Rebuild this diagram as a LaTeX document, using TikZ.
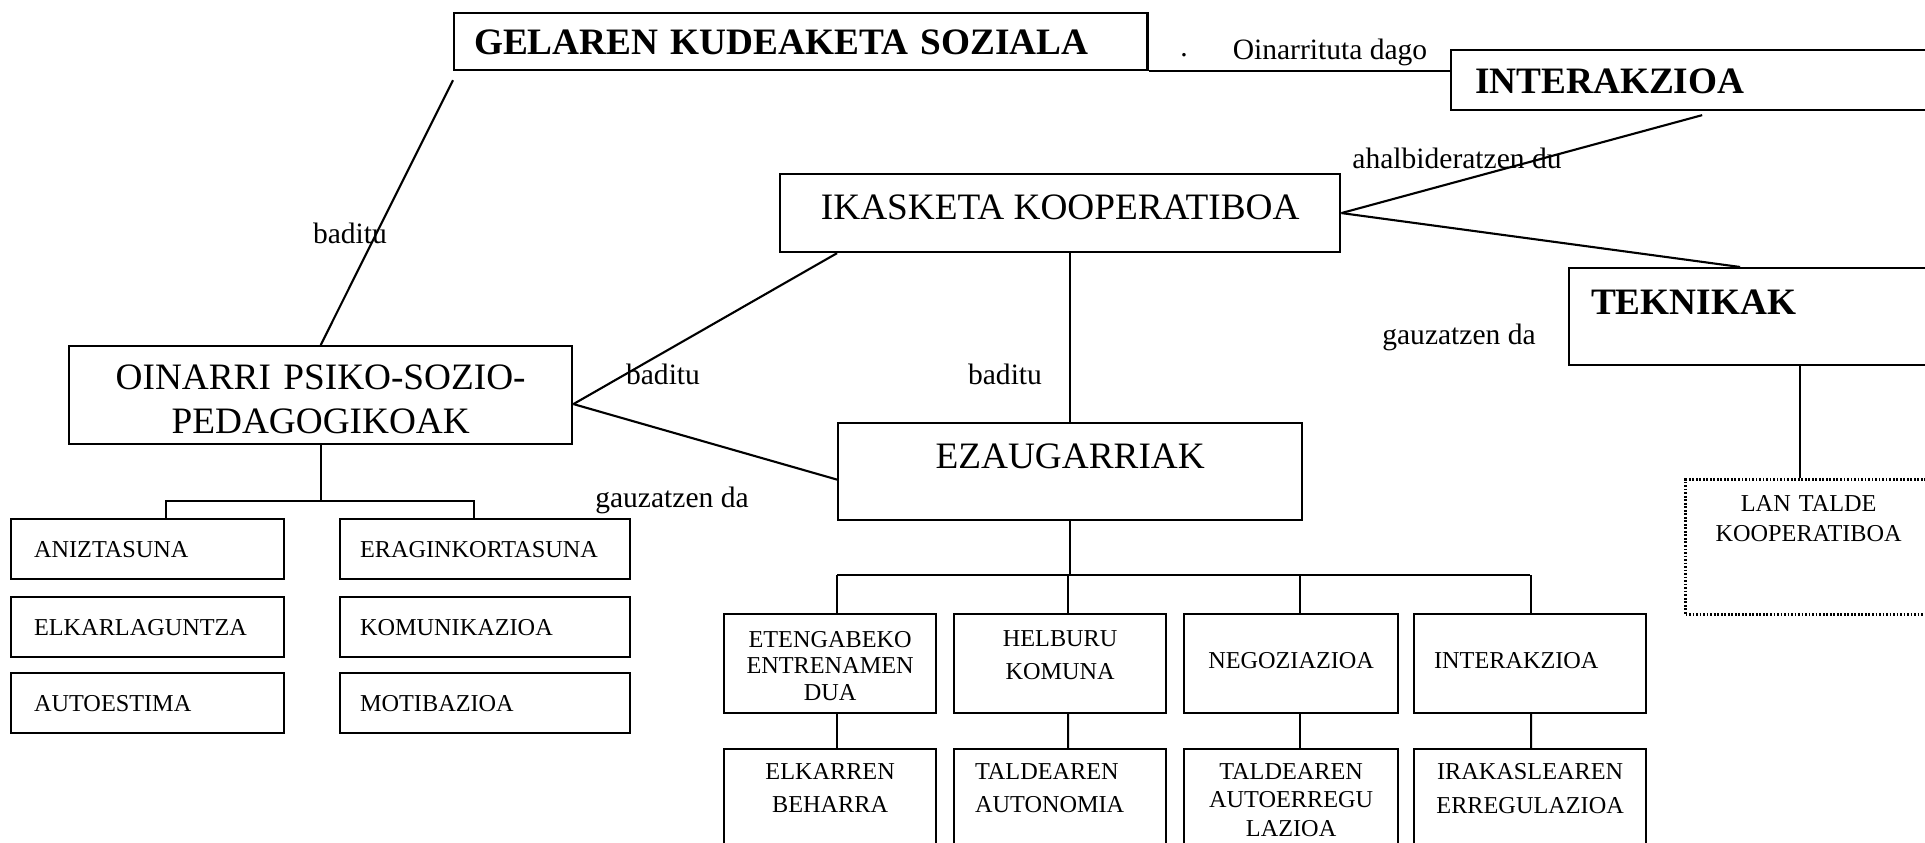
\documentclass[tikz,border=0pt]{standalone}
\usepackage{fontspec}
\setmainfont{Liberation Serif}
\usetikzlibrary{calc}

\begin{document}
\begin{tikzpicture}[x=0.01cm, y=-0.01cm, line width=0.6pt,
    box/.style={draw, anchor=north west, inner ysep=0pt, font=\fontsize{10.6}{12.5}\selectfont},
    headbox/.style={box, font=\fontsize{10.6}{12.5}\selectfont\bfseries, align=left},
    smallbox/.style={box, font=\fontsize{6.9}{8}\selectfont},
    ezbox/.style={smallbox, align=center, inner xsep=0pt},
    lcol/.style={smallbox, align=left, text width=2.27cm, inner xsep=0.23cm, text height=0.38cm, text depth=0.22cm},
    rcol/.style={smallbox, align=left, text width=2.5cm, inner xsep=0.2cm, text height=0.38cm, text depth=0.22cm},
    lbl/.style={anchor=base, inner sep=0pt, font=\fontsize{8.4}{10}\selectfont}]
  \path[use as bounding box, clip] (0,0) rectangle (1925,843);

  % top row
  \node[headbox, text width=6.53cm, inner xsep=0.2cm, text height=0.41cm, text depth=0.16cm] (gelaren) at (453,12) {GELAREN KUDEAKETA SOZIALA};
  \node[headbox, text width=4.62cm, inner xsep=0.24cm, text height=0.43cm, text depth=0.17cm] (inter) at (1450,49) {INTERAKZIOA};
  \node[box, minimum width=5.6cm, text height=0.45cm, text depth=0.33cm] (ikasketa) at (779,173) {IKASKETA KOOPERATIBOA};
  \node[headbox, text width=3.48cm, inner xsep=0.22cm, text height=0.46cm, text depth=0.51cm] (tekn) at (1568,267) {TEKNIKAK};
  \node[smallbox, dash pattern=on 0.5pt off 0.5pt, line width=0.9pt, text width=2.46cm, inner xsep=0pt, align=center,
        font=\fontsize{6.9}{8.5}\selectfont, text height=0.32cm, text depth=1.03cm] (lan) at (1684,478) {LAN TALDE\\KOOPERATIBOA};

  % middle
  \node[box, text width=5.03cm, inner xsep=0pt, align=center, text height=0.43cm, text depth=0.55cm] (oinarri) at (68,345) {OINARRI PSIKO-SOZIO-\\PEDAGOGIKOAK};
  \node[box, minimum width=4.64cm, text height=0.45cm, text depth=0.52cm] (ezaug) at (837,422) {EZAUGARRIAK};

  % oinarri list
  \node[lcol] (aniz) at (10,518) {ANIZTASUNA};
  \node[lcol] (elkar) at (10,596) {ELKARLAGUNTZA};
  \node[lcol] (autoes) at (10,672) {AUTOESTIMA};
  \node[rcol] (eragin) at (339,518) {ERAGINKORTASUNA};
  \node[rcol] (komun) at (339,596) {KOMUNIKAZIOA};
  \node[rcol] (motib) at (339,672) {MOTIBAZIOA};

  % ezaugarriak, first row
  \node[ezbox, text width=2.12cm, font=\fontsize{6.9}{7.65}\selectfont, text height=0.33cm, text depth=0.66cm] (eteng) at (723,613) {ETENGABEKO\\ENTRENAMEN\\DUA};
  \node[ezbox, text width=2.12cm, font=\fontsize{6.9}{9.4}\selectfont, text height=0.32cm, text depth=0.67cm] (helb) at (953,613) {HELBURU\\KOMUNA};
  \node[ezbox, text width=2.14cm, text height=0.54cm, text depth=0.45cm] (negoz) at (1183,613) {NEGOZIAZIOA};
  \node[smallbox, align=left, text width=1.92cm, inner xsep=0.2cm, text height=0.54cm, text depth=0.45cm] (inter2) at (1413,613) {INTERAKZIOA};

  % second row
  \node[ezbox, text width=2.12cm, font=\fontsize{6.9}{9.6}\selectfont, text height=0.30cm, text depth=1.2cm] (elkarren) at (723,748) {ELKARREN\\BEHARRA};
  \node[smallbox, align=left, text width=1.70cm, inner xsep=0.21cm, font=\fontsize{6.9}{9.6}\selectfont, text height=0.30cm, text depth=1.2cm] (taldeA) at (953,748) {TALDEAREN\\AUTONOMIA};
  \node[ezbox, text width=2.14cm, font=\fontsize{6.9}{8.2}\selectfont, text height=0.30cm, text depth=1.2cm] (taldeB) at (1183,748) {TALDEAREN\\AUTOERREGU\\LAZIOA};
  \node[ezbox, text width=2.32cm, font=\fontsize{6.9}{9.9}\selectfont, text height=0.30cm, text depth=1.2cm] (irak) at (1413,748) {IRAKASLEAREN\\ERREGULAZIOA};

  % labels
  \node[lbl] (dot) at (1184,57) {.};
  \node[lbl] (oinarrituta) at (1330,60) {Oinarrituta dago};
  \node[lbl] (ahalb) at (1457,169) {ahalbideratzen du};
  \node[lbl] (baditu1) at (350,244) {baditu};
  \node[lbl] (baditu2) at (663,385) {baditu};
  \node[lbl] (baditu3) at (1005,384) {baditu};
  \node[lbl] (gauzatzen1) at (672,507) {gauzatzen da};
  \node[lbl] (gauzatzen2) at (1459,345) {gauzatzen da};

  % connectors
  \draw (gelaren.south east) -- (gelaren.south east -| inter.west);
  \draw ([yshift=-0.09cm]gelaren.south west) -- (oinarri.north);
  \draw ([yshift=-0.09cm]oinarri.east) -- ([xshift=0.58cm]ikasketa.south west);
  \draw ([yshift=-0.09cm]oinarri.east) -- ([yshift=-0.08cm]ezaug.west);
  \draw (ikasketa.east) -- ([shift={(2.52cm,-0.04cm)}]inter.south west);
  \draw (ikasketa.east) -- ([xshift=1.72cm]tekn.north west);
  \draw (ezaug.north) -- (ezaug.north |- ikasketa.south);
  \draw ([xshift=-0.09cm]lan.north) -- ([xshift=-0.09cm]lan.north |- tekn.south);

  \draw (oinarri.south) -- ++(0,56) coordinate (oinbar);
  \draw ([xshift=0.18cm]aniz.north) |- (oinbar) -| ([xshift=-0.11cm]eragin.north);

  \draw (ezaug.south) -- ++(0,54) coordinate (ezbar);
  \draw ([xshift=0.07cm]eteng.north |- ezbar) -- (irak.north |- ezbar);
  \foreach \a/\b/\s in {eteng/elkarren/0.07, helb/taldeA/0.08, negoz/taldeB/0.09, inter2/irak/0.01} {
    \draw ([xshift=\s cm]\a.north) -- ([xshift=\s cm]\a.north |- ezbar);
    \draw ([xshift=\s cm]\a.south) -- ([xshift=\s cm]\b.north);
  }
\end{tikzpicture}
\end{document}
